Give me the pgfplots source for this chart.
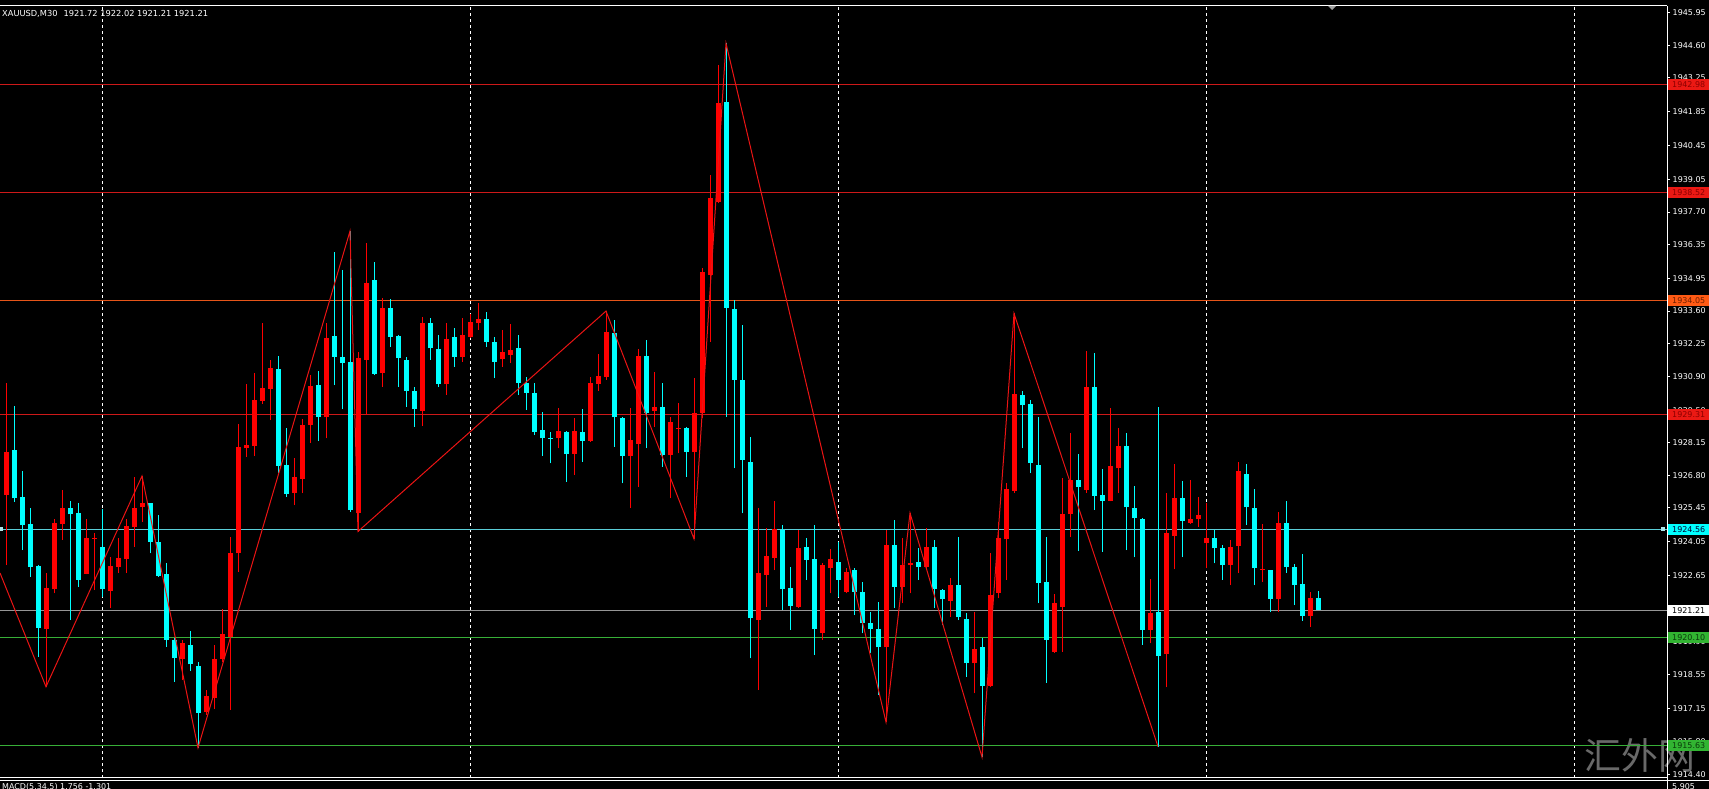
\documentclass[border=0pt]{standalone}
\usepackage{fontspec}
\setmainfont{DejaVu Sans}
\newfontfamily\cjk{Noto Sans CJK SC}
\usepackage{pgfplots}
\usepackage{pgfplotstable}
\pgfplotsset{compat=1.18}

\definecolor{bull}{RGB}{255,0,0}
\definecolor{bear}{RGB}{0,255,255}
\definecolor{zz}{RGB}{235,20,20}
\definecolor{lvred}{RGB}{205,25,25}
\definecolor{lvorange}{RGB}{230,85,25}
\definecolor{lvcyan}{RGB}{90,205,215}
\definecolor{lvgray}{RGB}{150,150,150}
\definecolor{lvgreen}{RGB}{55,175,55}
\definecolor{boxred}{RGB}{235,25,20}
\definecolor{boxredtxt}{RGB}{140,0,0}
\definecolor{boxorange}{RGB}{255,90,20}
\definecolor{boxorangetxt}{RGB}{110,30,0}
\definecolor{boxgreen}{RGB}{50,180,50}
\definecolor{boxgreentxt}{RGB}{10,60,10}
\definecolor{wm}{RGB}{105,105,105}

% bullish (red) candles: index open high low close
\pgfplotstableread{
k o h l c
0 1925.99 1930.61 1923.09 1927.78
5 1920.44 1922.75 1918.05 1922.13
6 1922.08 1924.98 1921.92 1924.84
7 1924.78 1926.19 1924.13 1925.44
10 1922.72 1924.98 1922.70 1924.22
11 1924.19 1924.40 1922.06 1924.21
13 1922.01 1923.43 1921.30 1923.05
14 1923.02 1924.22 1922.75 1923.39
15 1923.33 1924.98 1922.75 1924.70
16 1924.65 1926.75 1923.85 1925.44
17 1925.48 1926.77 1924.88 1925.64
22 1919.19 1919.99 1918.33 1919.85
25 1917.02 1917.92 1916.88 1917.67
26 1917.57 1919.78 1917.12 1919.19
27 1919.19 1921.26 1919.08 1920.23
28 1920.12 1924.26 1917.09 1923.57
29 1923.57 1928.93 1922.81 1927.99
30 1927.92 1930.58 1927.57 1928.06
31 1928.03 1931.02 1927.60 1929.92
32 1929.89 1933.12 1929.75 1930.43
33 1930.38 1931.58 1929.09 1931.23
36 1926.08 1927.51 1925.57 1926.75
37 1926.65 1929.12 1926.06 1928.89
38 1928.89 1930.95 1928.13 1930.50
40 1929.20 1933.11 1928.33 1932.50
44 1925.23 1931.92 1924.47 1931.65
45 1931.58 1936.41 1929.30 1934.75
47 1931.05 1934.13 1930.47 1933.72
52 1929.48 1933.37 1928.84 1933.09
55 1930.58 1933.09 1930.13 1932.43
57 1931.69 1933.30 1931.51 1932.61
58 1932.54 1933.48 1932.47 1933.16
59 1933.09 1933.92 1932.82 1933.29
62 1931.60 1932.82 1931.30 1931.89
63 1931.78 1933.07 1931.46 1931.99
69 1928.33 1929.58 1927.92 1928.65
71 1927.69 1929.16 1926.82 1928.65
73 1928.24 1930.88 1928.20 1930.64
74 1930.58 1931.82 1930.30 1930.91
75 1930.88 1933.60 1930.75 1932.75
78 1927.60 1929.58 1925.44 1928.26
79 1928.10 1932.02 1926.33 1931.74
81 1929.48 1931.09 1928.81 1929.62
83 1927.64 1929.23 1925.85 1929.01
84 1928.73 1929.78 1927.71 1928.77
86 1927.78 1930.82 1924.17 1929.37
87 1929.39 1935.37 1929.17 1935.23
88 1935.09 1939.23 1932.33 1938.27
89 1938.13 1943.79 1938.06 1942.22
94 1920.81 1925.44 1917.92 1922.77
95 1922.68 1924.61 1921.36 1923.46
96 1923.37 1925.75 1922.88 1924.57
99 1921.36 1924.54 1921.33 1923.78
102 1920.29 1923.16 1919.99 1923.09
103 1922.95 1923.74 1921.92 1923.33
105 1921.99 1922.95 1921.92 1922.81
110 1919.68 1924.54 1916.59 1923.92
112 1922.17 1924.20 1921.51 1923.09
113 1923.09 1925.23 1921.92 1923.16
115 1923.00 1924.61 1922.95 1923.85
118 1921.61 1922.54 1920.95 1922.26
121 1919.02 1921.16 1917.78 1919.60
123 1918.08 1923.57 1918.05 1921.85
124 1921.94 1924.88 1921.71 1924.20
125 1924.15 1926.50 1922.47 1926.22
126 1926.17 1933.51 1926.06 1930.17
131 1919.50 1921.89 1919.46 1921.51
132 1921.36 1926.68 1919.50 1925.20
133 1925.20 1928.54 1924.24 1926.61
135 1926.19 1931.96 1926.08 1930.45
138 1925.75 1929.58 1925.72 1927.19
139 1927.09 1928.75 1926.06 1928.02
143 1920.40 1922.50 1919.85 1921.12
145 1919.41 1926.06 1918.03 1924.40
146 1924.29 1927.27 1922.91 1925.85
148 1924.84 1926.61 1924.79 1924.98
149 1924.98 1925.92 1924.68 1925.16
150 1923.99 1925.64 1922.95 1924.20
153 1923.09 1924.13 1922.26 1923.85
154 1923.88 1927.37 1922.75 1926.99
157 1922.90 1924.79 1922.40 1922.93
159 1921.67 1925.30 1921.16 1924.82
163 1920.98 1921.99 1920.54 1921.72
}\bulltab

% bearish (cyan) candles: index open high low close
\pgfplotstableread{
k o h l c
1 1927.85 1929.67 1925.71 1925.85
2 1925.89 1926.99 1923.71 1924.75
3 1924.78 1925.46 1922.61 1923.00
4 1923.05 1923.10 1919.30 1920.50
8 1925.46 1925.75 1920.81 1925.19
9 1925.23 1925.67 1922.19 1922.47
12 1923.85 1925.40 1921.78 1922.08
18 1925.64 1925.67 1923.57 1924.05
19 1924.05 1925.16 1922.60 1922.64
20 1922.72 1923.16 1919.71 1919.99
21 1919.99 1920.05 1918.26 1919.23
23 1919.78 1920.36 1918.70 1918.98
24 1918.92 1919.08 1915.52 1916.98
34 1931.19 1931.74 1926.91 1927.19
35 1927.23 1928.75 1925.92 1926.03
39 1930.54 1931.13 1928.24 1929.23
41 1932.57 1936.06 1930.54 1931.71
42 1931.69 1935.30 1929.53 1931.46
43 1931.48 1936.91 1925.30 1925.37
46 1934.89 1935.64 1930.95 1931.00
48 1933.72 1934.09 1932.13 1932.54
49 1932.57 1932.60 1930.47 1931.65
50 1931.58 1931.71 1929.64 1930.30
51 1930.30 1930.47 1928.81 1929.53
53 1933.09 1933.30 1931.58 1932.06
54 1932.02 1932.61 1930.47 1930.58
56 1932.54 1932.89 1931.30 1931.69
60 1933.26 1933.57 1932.13 1932.33
61 1932.33 1932.54 1930.82 1931.51
64 1932.06 1932.61 1930.13 1930.64
65 1930.64 1930.88 1929.51 1930.22
66 1930.22 1930.64 1928.47 1928.61
67 1928.68 1929.44 1927.60 1928.33
68 1928.35 1928.61 1927.30 1928.32
70 1928.61 1928.65 1926.54 1927.69
72 1928.61 1929.53 1927.37 1928.24
76 1932.68 1933.23 1927.99 1929.20
77 1929.16 1929.20 1926.47 1927.60
80 1931.74 1932.40 1927.92 1929.39
82 1929.62 1930.64 1927.16 1927.64
85 1928.75 1928.81 1926.75 1927.78
90 1942.27 1944.68 1929.23 1933.72
91 1933.67 1934.06 1927.09 1930.75
92 1930.75 1933.02 1925.23 1927.44
93 1927.37 1928.40 1919.23 1920.88
97 1924.54 1924.75 1921.23 1922.08
98 1922.15 1923.02 1920.40 1921.39
100 1923.82 1924.20 1922.47 1923.30
101 1923.33 1924.75 1919.37 1920.43
104 1923.23 1924.05 1921.78 1922.47
106 1922.88 1922.95 1921.02 1921.99
107 1921.99 1922.40 1920.26 1920.68
108 1920.68 1921.16 1919.44 1920.43
109 1920.43 1921.57 1917.71 1919.68
111 1923.92 1924.95 1921.30 1922.19
114 1923.23 1923.78 1922.47 1923.00
116 1923.85 1924.13 1921.30 1922.08
117 1922.06 1922.10 1920.61 1921.67
119 1922.26 1924.26 1920.81 1920.93
120 1920.84 1921.12 1918.47 1919.02
122 1919.68 1920.06 1915.14 1918.08
127 1930.13 1930.30 1927.92 1929.71
128 1929.75 1929.92 1926.89 1927.33
129 1927.23 1929.23 1921.51 1922.36
130 1922.40 1924.24 1918.22 1919.99
134 1926.61 1927.69 1923.68 1926.31
136 1930.45 1931.88 1925.37 1925.95
137 1925.99 1927.05 1923.64 1925.75
140 1928.02 1928.57 1923.71 1925.48
141 1925.44 1926.36 1923.41 1925.02
142 1924.99 1925.02 1919.78 1920.40
144 1921.16 1929.65 1915.57 1919.32
147 1925.85 1926.58 1923.41 1924.92
151 1924.22 1924.54 1923.16 1923.78
152 1923.78 1923.92 1922.47 1923.09
155 1926.86 1927.27 1924.75 1925.48
156 1925.44 1926.22 1922.26 1922.95
158 1922.88 1922.90 1921.16 1921.70
160 1924.82 1925.75 1922.77 1923.00
161 1923.00 1923.13 1921.43 1922.26
162 1922.30 1923.55 1920.79 1920.98
164 1921.72 1922.02 1921.21 1921.21
}\beartab

\begin{document}
\begin{tikzpicture}[x=1bp,y=1bp,
  lab/.style={anchor=west, minimum width=41bp, minimum height=11bp, inner sep=0pt, font=\fontsize{8}{9}\selectfont}]
\useasboundingbox (0,0) rectangle (1709,789);
\fill[black] (0,0) rectangle (1709,789);
% watermark (behind everything else)
\node[text=wm, inner sep=0pt, font=\cjk\fontsize{37}{40}\selectfont] at (1640,34) {汇外网};
\begin{axis}[name=main, at={(0bp,11bp)}, anchor=south west, scale only axis,
  width=1667bp, height=772bp,
  xmin=-0.75, xmax=207.625, ymin=1914.274, ymax=1946.228,
  clip mode=individual,
  axis line style={draw=none},
  xtick=\empty,
  ytick={1914.40,1915.80,1917.15,1918.55,1919.90,1921.25,1922.65,1924.05,1925.45,1926.80,1928.15,1929.50,1930.90,1932.25,1933.60,1934.95,1936.35,1937.70,1939.05,1940.45,1941.85,1943.25,1944.60,1945.95},
  ytick pos=right, yticklabel pos=right,
  tick align=outside, major tick length=3bp,
  tick style={white, line width=1bp},
  scaled y ticks=false,
  yticklabel style={white, font=\fontsize{8}{9}\selectfont, inner sep=2.5bp,
    /pgf/number format/.cd, fixed, fixed zerofill, precision=2, 1000 sep={}, assume math mode=true},
]
% session separators
\foreach \g in {12,58,104,150,196}{
  \edef\temp{\noexpand\draw[white, line width=1bp, dash pattern=on 3bp off 3bp] (axis cs:\g,1914.274) -- (axis cs:\g,1946.228);}
  \temp
}
% horizontal levels
\addplot[lvred, line width=1bp, forget plot] coordinates {(-0.75,1942.98) (207.625,1942.98)};
\addplot[lvred, line width=1bp, forget plot] coordinates {(-0.75,1938.52) (207.625,1938.52)};
\addplot[lvorange, line width=1bp, forget plot] coordinates {(-0.75,1934.05) (207.625,1934.05)};
\addplot[lvred, line width=1bp, forget plot] coordinates {(-0.75,1929.31) (207.625,1929.31)};
\addplot[lvcyan, line width=1bp, forget plot] coordinates {(-0.75,1924.56) (207.625,1924.56)};
\addplot[lvgray, line width=1bp, forget plot] coordinates {(-0.75,1921.21) (207.625,1921.21)};
\addplot[lvgreen, line width=1bp, forget plot] coordinates {(-0.75,1920.10) (207.625,1920.10)};
\addplot[lvgreen, line width=1bp, forget plot] coordinates {(-0.75,1915.63) (207.625,1915.63)};
% wicks
\addplot[draw=none, mark=none, forget plot, error bars/.cd, y dir=plus, y explicit, error mark=none,
  error bar style={draw=bull, line width=1bp}]
  table[x=k, y=l, y error plus expr=\thisrow{h}-\thisrow{l}] {\bulltab};
\addplot[draw=none, mark=none, forget plot, error bars/.cd, y dir=plus, y explicit, error mark=none,
  error bar style={draw=bear, line width=1bp}]
  table[x=k, y=l, y error plus expr=\thisrow{h}-\thisrow{l}] {\beartab};
% bodies
\addplot[draw=none, mark=none, forget plot, error bars/.cd, y dir=plus, y explicit, error mark=none,
  error bar style={draw=bull, line width=5bp}]
  table[x=k, y=o, y error plus expr=\thisrow{c}-\thisrow{o}] {\bulltab};
\addplot[draw=none, mark=none, forget plot, error bars/.cd, y dir=plus, y explicit, error mark=none,
  error bar style={draw=bear, line width=5bp}]
  table[x=k, y=c, y error plus expr=\thisrow{o}-\thisrow{c}] {\beartab};
% zigzag
\addplot[zz, line width=1bp, forget plot] coordinates {
(-0.75,1922.76) (5,1918.05) (17,1926.77) (24,1915.52) (43,1936.91) (44,1924.48)
(75,1933.60) (86,1924.17) (90,1944.68) (110,1916.59) (113,1925.24) (122,1915.14)
(126,1933.50) (144,1915.57)};
\coordinate (b1) at (axis cs:207.625,1942.98);
\coordinate (b2) at (axis cs:207.625,1938.52);
\coordinate (b3) at (axis cs:207.625,1934.05);
\coordinate (b4) at (axis cs:207.625,1929.31);
\coordinate (b5) at (axis cs:207.625,1924.56);
\coordinate (b6) at (axis cs:207.625,1921.21);
\coordinate (b7) at (axis cs:207.625,1920.10);
\coordinate (b8) at (axis cs:207.625,1915.63);
\coordinate (m1) at (axis cs:207.625,1924.56);
\coordinate (m0) at (axis cs:-0.75,1924.56);
\end{axis}
% frame
\draw[white, line width=1bp] (0,783) -- (1667,783);
\draw[white, line width=1bp] (1667,0) -- (1667,783);
\draw[white, line width=1bp] (0,11) -- (1667,11);
\draw[white, line width=1bp] (0,8) -- (1709,8);
% chart shift marker
\fill[gray!75] (1328,783) -- (1336,783) -- (1332,779) -- cycle;
% level labels
\node[lab, fill=boxred, text=boxredtxt] at ([xshift=1bp]b1) {1942.98};
\node[lab, fill=boxred, text=boxredtxt] at ([xshift=1bp]b2) {1938.52};
\node[lab, fill=boxorange, text=boxorangetxt] at ([xshift=1bp]b3) {1934.05};
\node[lab, fill=boxred, text=boxredtxt] at ([xshift=1bp]b4) {1929.31};
\node[lab, fill=bear, text=black!80!blue] at ([xshift=1bp]b5) {1924.56};
\node[lab, fill=white, text=black] at ([xshift=1bp]b6) {1921.21};
\node[lab, fill=boxgreen, text=boxgreentxt] at ([xshift=1bp]b7) {1920.10};
\node[lab, fill=boxgreen, text=boxgreentxt] at ([xshift=1bp]b8) {1915.63};
% line end markers
\fill[lvcyan!50!white] ([xshift=-6bp,yshift=-2bp]m1) rectangle ([xshift=-2bp,yshift=2bp]m1);
\fill[lvcyan!50!white] ([xshift=0bp,yshift=-2bp]m0) rectangle ([xshift=3bp,yshift=2bp]m0);
% texts
\node[anchor=base west, text=white, inner sep=0pt, font=\fontsize{8.3}{9}\selectfont] at (2,772)
  {XAUUSD,M30\hspace{6bp}1921.72 1922.02 1921.21 1921.21};
\node[anchor=north west, text=white, inner sep=0pt, font=\fontsize{8}{9}\selectfont] at (2,5.5)
  {MACD(5,34,5) 1.756 -1.301};
\node[anchor=north west, text=white, inner sep=0pt, font=\fontsize{8}{9}\selectfont] at (1672,5.5)
  {5.905};
\end{tikzpicture}
\end{document}
